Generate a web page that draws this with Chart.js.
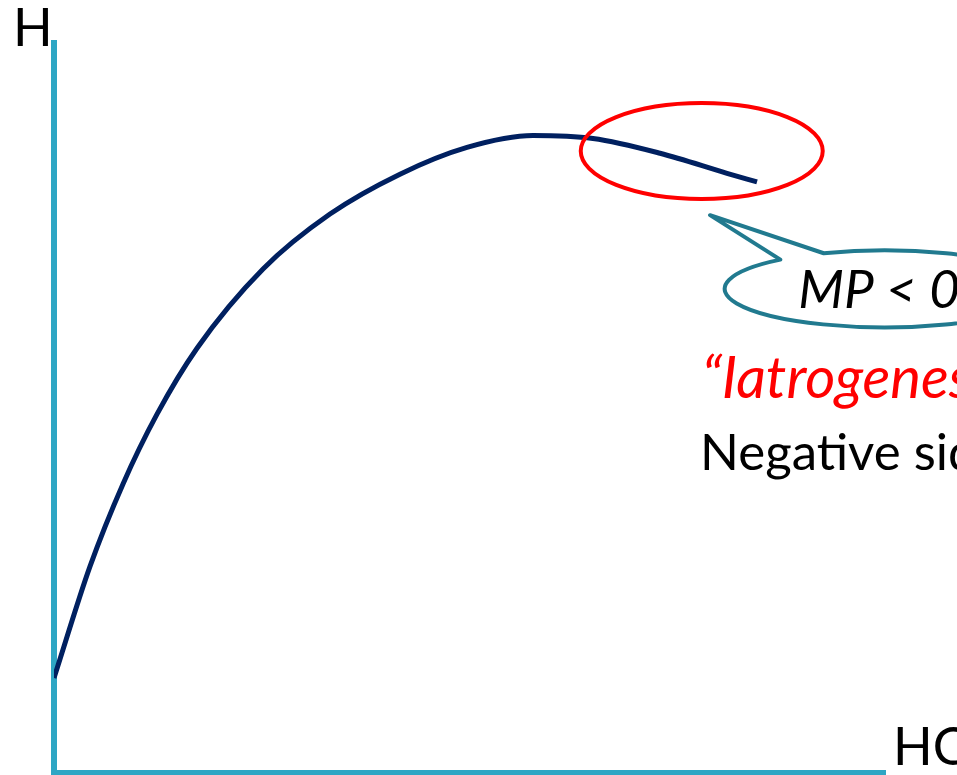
<!DOCTYPE html>
<html>
<head>
<meta charset="utf-8">
<script src="https://cdn.jsdelivr.net/npm/chart.js@4"></script>
<style>
  html, body { margin: 0; padding: 0; background: #fff; }
  #wrap { width: 957px; height: 775px; }
</style>
</head>
<body>
<div id="wrap"><canvas id="healthChart" width="957" height="775"></canvas></div>
<script>
// Health (H) as a function of health care (HC), both on a 0-100 scale
const hcValues = [0, 4.33, 8.30, 12.39, 17.2, 25.14, 33.19, 41.61, 49.67, 57.61, 64.82, 72.88, 80.94, 84.55];
const hValues  = [12.95, 28.25, 39.56, 49.12, 58.16, 69.02, 76.55, 82.02, 85.69, 87.32, 86.91, 84.89, 82.14, 80.95];

const axisLabels = { y: 'H', x: 'HC' };
const calloutText = 'MP < 0';
const noteTitle = '\u201cIatrogenesis\u201d';
const noteText = 'Negative side effects';

const axisColor = '#2EA6C4';
const curveColor = '#002060';
const fontFamily = "Lato, 'Open Sans', sans-serif";

const points = hcValues.map((x, i) => ({ x: x, y: hValues[i] }));

// Annotations: red ring around the falling tail, speech bubble and notes
const annotations = {
    id: 'annotations',
    afterDatasetsDraw(chart) {
        const ctx = chart.ctx;
        const sx = chart.scales.x;
        const sy = chart.scales.y;
        const area = chart.chartArea;
        const px = (v) => sx.getPixelForValue(v);
        const py = (v) => sy.getPixelForValue(v);

        ctx.save();

        // red ellipse
        ctx.beginPath();
        ctx.ellipse(px(77.9), py(85.2), 121, 48, 0, 0, Math.PI * 2);
        ctx.strokeStyle = '#FF0000';
        ctx.lineWidth = 4;
        ctx.stroke();

        // speech bubble
        const cx = px(99.9), cy = py(66.3), rx = 160, ry = 38.5;
        const t1 = Math.atan2(-0.792, -0.681);
        const t2 = Math.atan2(-0.925, -0.381);
        ctx.beginPath();
        ctx.moveTo(cx + rx * Math.cos(t2), cy + ry * Math.sin(t2));
        ctx.ellipse(cx, cy, rx, ry, 0, t2, t1 + Math.PI * 2, false);
        ctx.lineTo(px(78.9), py(76.4));
        ctx.closePath();
        ctx.fillStyle = '#FFFFFF';
        ctx.fill();
        ctx.strokeStyle = '#217A8F';
        ctx.lineWidth = 4;
        ctx.lineJoin = 'round';
        ctx.stroke();

        ctx.textBaseline = 'alphabetic';
        ctx.textAlign = 'left';

        ctx.fillStyle = '#000000';
        ctx.font = 'italic 53px ' + fontFamily;
        ctx.fillText(calloutText, px(89.5), py(63.7));

        ctx.fillStyle = '#FF0000';
        ctx.font = 'italic 58px ' + fontFamily;
        ctx.fillText(noteTitle, px(77.9), py(51.3));

        ctx.fillStyle = '#000000';
        ctx.font = '51px ' + fontFamily;
        ctx.fillText(noteText, px(77.7), py(41.5));

        // axis letters
        ctx.font = '52px ' + fontFamily;
        ctx.fillText(axisLabels.y, area.left - 41, area.top + 3);
        ctx.fillText(axisLabels.x, area.right + 7.5, area.bottom - 7.5);

        ctx.restore();
    }
};

new Chart(document.getElementById('healthChart').getContext('2d'), {
    type: 'line',
    data: {
        datasets: [{
            label: 'H',
            data: points,
            borderColor: curveColor,
            borderWidth: 5,
            pointRadius: 0,
            fill: false,
            cubicInterpolationMode: 'monotone'
        }]
    },
    options: {
        responsive: false,
        animation: false,
        plugins: {
            legend: { display: false },
            tooltip: { enabled: false }
        },
        layout: {
            padding: { left: 54, right: 71.5, top: 43, bottom: 2.5 }
        },
        scales: {
            x: {
                type: 'linear',
                min: 0,
                max: 100,
                ticks: { display: false },
                grid: { display: false, drawTicks: false },
                border: { color: axisColor, width: 6 }
            },
            y: {
                type: 'linear',
                min: 0,
                max: 100,
                ticks: { display: false },
                grid: { display: false, drawTicks: false },
                border: { color: axisColor, width: 6 }
            }
        }
    },
    plugins: [annotations]
});
</script>
</body>
</html>
